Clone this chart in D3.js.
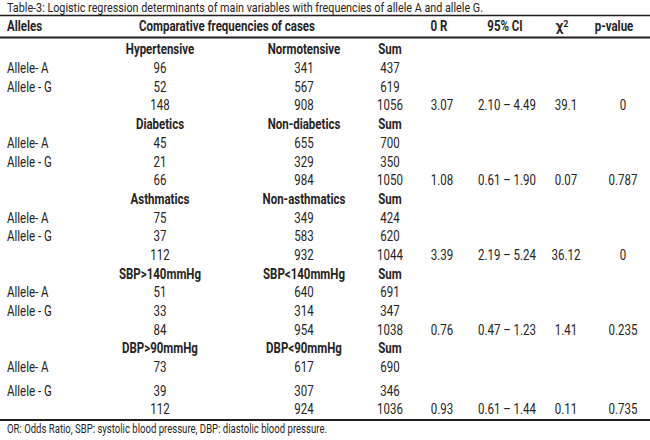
<!DOCTYPE html>
<html>
<head>
<meta charset="utf-8">
<script src="https://cdn.jsdelivr.net/npm/d3@7"></script>
<style>
  html, body { margin: 0; padding: 0; background: #fff; }
  svg text { font-family: Roboto, "Noto Sans", sans-serif; fill: #262324; }
  .bold { font-weight: bold; }
</style>
</head>
<body>
<div class="table"></div>
<script>
const title = "Table-3: Logistic regression determinants of main variables with frequencies of allele A and allele G.";
const footnote = "OR: Odds Ratio, SBP: systolic blood pressure, DBP: diastolic blood pressure.";
const alleles = ["Allele- A", "Allele - G"];
const caseLabels = ["Hypertensive", "Diabetics", "Asthmatics", "SBP>140mmHg", "DBP>90mmHg"];
const controlLabels = ["Normotensive", "Non-diabetics", "Non-asthmatics", "SBP<140mmHg", "DBP<90mmHg"];
const alleleACase = [96, 45, 75, 51, 73];
const alleleAControl = [341, 655, 349, 640, 617];
const alleleASum = [437, 700, 424, 691, 690];
const alleleGCase = [52, 21, 37, 33, 39];
const alleleGControl = [567, 329, 583, 314, 307];
const alleleGSum = [619, 350, 620, 347, 346];
const totalCase = [148, 66, 112, 84, 112];
const totalControl = [908, 984, 932, 954, 924];
const totalSum = [1056, 1050, 1044, 1038, 1036];
const oddsRatio = ["3.07", "1.08", "3.39", "0.76", "0.93"];
const ciLow = ["2.10", "0.61", "2.19", "0.47", "0.61"];
const ciHigh = ["4.49", "1.90", "5.24", "1.23", "1.44"];
const chiSquare = ["39.1", "0.07", "36.12", "1.41", "0.11"];
const pValue = ["0", "0.787", "0", "0.235", "0.735"];

const width = 650, height = 440;
// police condensée : on resserre les glyphes
const squeeze = 0.82;

// on construit les lignes du tableau (4 lignes par groupe)
let rows = [];
caseLabels.forEach((c, i) => {
    rows.push({ cells: [null, c, controlLabels[i], "Sum", null, null, null, null], bold: true });
    rows.push({ cells: [alleles[0], alleleACase[i], alleleAControl[i], alleleASum[i], null, null, null, null] });
    rows.push({ cells: [alleles[1], alleleGCase[i], alleleGControl[i], alleleGSum[i], null, null, null, null] });
    rows.push({ cells: [null, totalCase[i], totalControl[i], totalSum[i], oddsRatio[i], ciLow[i] + " \u2013 " + ciHigh[i], chiSquare[i], pValue[i]] });
});

const columns = d3.range(8);
const x = d3.scaleOrdinal().domain(columns).range([7, 160, 304, 390, 442, 507, 566, 623]);
const y = d3.scaleLinear().domain([0, 16]).range([49.5, 348.5]);
// la ligne Allele - G du dernier groupe est plus espacée
const rowY = i => y(i) + (i >= 18 ? 5 : 0);

function condense(sel, k) {
    sel.each(function () {
        const w = this.getComputedTextLength();
        d3.select(this).attr("textLength", w * k).attr("lengthAdjust", "spacingAndGlyphs");
    });
}

const svg = d3.select(".table")
    .append("svg")
    .attr("width", width)
    .attr("height", height);

svg.append("text")
    .attr("x", 7)
    .attr("y", 7)
    .attr("dy", "0.35em")
    .attr("font-size", 13)
    .text(title)
    .attr("textLength", 476)
    .attr("lengthAdjust", "spacingAndGlyphs");

// filets horizontaux
svg.selectAll("line.rule")
    .data([15.5, 37.5, 420])
    .enter()
    .append("line")
    .attr("class", "rule")
    .attr("x1", 0)
    .attr("x2", width)
    .attr("y1", d => d)
    .attr("y2", d => d)
    .attr("stroke", "#231f20")
    .attr("stroke-width", (d, i) => i == 0 ? 1.5 : 2);

// en-tête
const header = svg.append("g").attr("class", "bold").attr("font-size", 14);
header.append("text").attr("x", 7).attr("y", 26).text("Alleles");
header.append("text").attr("x", 227).attr("y", 26).attr("text-anchor", "middle").text("Comparative frequencies of cases");
header.append("text").attr("x", 439).attr("y", 26).attr("text-anchor", "middle").text("0 R");
header.append("text").attr("x", 505).attr("y", 26).attr("text-anchor", "middle").text("95% CI");
header.append("text").attr("x", 614).attr("y", 26).attr("text-anchor", "middle").text("p-value");
header.selectAll("text").attr("dy", "0.35em").call(condense, squeeze);
const chi = header.append("text").attr("x", 562).attr("y", 26).attr("dy", "0.35em").attr("text-anchor", "middle");
chi.append("tspan").text("\u03c7");
chi.append("tspan").attr("dy", "-0.45em").attr("font-size", 9).text("2");

// corps du tableau
const rowG = svg.selectAll("g.row")
    .data(rows)
    .enter()
    .append("g")
    .attr("class", d => d.bold ? "row bold" : "row")
    .attr("transform", (d, i) => `translate(0,${rowY(i)})`);

rowG.selectAll("text")
    .data(d => d.cells.map((v, j) => ({ v, j })).filter(c => c.v !== null))
    .enter()
    .append("text")
    .attr("x", c => x(c.j))
    .attr("dy", "0.35em")
    .attr("font-size", 14)
    .attr("text-anchor", c => c.j == 0 ? "start" : "middle")
    .text(c => c.v)
    .call(condense, squeeze);

svg.append("text")
    .attr("x", 7)
    .attr("y", 429)
    .attr("dy", "0.35em")
    .attr("font-size", 12)
    .text(footnote)
    .attr("textLength", 320)
    .attr("lengthAdjust", "spacingAndGlyphs");
</script>
</body>
</html>
